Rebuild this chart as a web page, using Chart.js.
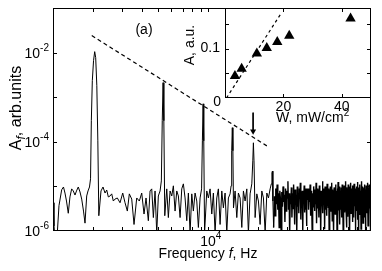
<!DOCTYPE html>
<html><head><meta charset="utf-8">
<script src="https://cdn.jsdelivr.net/npm/chart.js@4.4.1/dist/chart.umd.min.js"></script>
<style>
html,body{margin:0;padding:0;background:#fff;}
#wrap{position:relative;width:382px;height:271px;}
canvas{position:absolute;left:0;top:0;}
</style></head><body>
<div id="wrap"><canvas id="main" width="382" height="271"></canvas><canvas id="inset" width="382" height="271"></canvas></div>
<script>
// ---- main spectrum: harmonic region (Hz, arb. units)
const lowFreq = [1150,1166,1182,1216,1250,1298,1331,1359,1388,1423,1457,1492,1526,1563,1596,1636,1676,1716,1760,1797,1840,1874,1913,
 1941,1963,1990,2024,2057,2086,2119,2149,2179,
 2246,2310,2376,2433,2488,2548,2608,2667,2731,2820,2929,3041,3141,3243,3334,3448,3560,3697,3833,3964,4093,4209,4346,4452,4557,4661,4773,4887,4997,5119,
 5212,5278,5338,5397,5466,
 5620,5746,5885,6026,6162,6310,6461,6607,6767,6928,7085,7255,7429,7597,7780,7965,8145,8340,8541,8734,8945,9134,
 9237,9327,9417,9524,
 9820,10042,10283,10529,10768,11026,11290,11545,11822,12106,12380,12677,12981,13275,13593,13786,
 13900,14018,14135,14253,
 14575,14925,15262,15630,16004,16367,16759,17161,17549,17970,18400,
 18660,18815,18976,19270,
 19735,20180,20660,21160,21640,22160,22690,23210,23760,24155,
 24360,24530,24700,24945];
const lowAmp = [4.3e-6,1.3e-6,7e-7,7e-7,3.7e-6,8.4e-6,9.7e-6,7.1e-6,4.7e-6,2.5e-6,5.8e-6,8.8e-6,7.9e-6,6.4e-6,7.9e-6,9.7e-6,7.5e-6,5.2e-6,2.8e-6,1.5e-6,6.1e-6,7.9e-6,9.7e-6,
 1.48e-5,2.97e-4,2.35e-3,6.6e-3,1.05e-2,7.7e-3,1.81e-3,1.05e-4,2.2e-6,
 7.9e-6,9.7e-6,7.1e-6,8.3e-6,5.8e-6,6.1e-6,6.8e-6,4.7e-6,5.2e-6,5.5e-6,4.3e-6,7.1e-6,4.3e-6,2.8e-6,6.8e-6,5.2e-6,1.4e-6,5.5e-6,4.7e-6,7.1e-6,2.4e-6,5.5e-6,1.7e-6,7.9e-6,8.8e-6,2.0e-6,7.9e-6,9e-7,6.1e-6,7.9e-6,
 1.33e-5,2.97e-4,2.12e-3,2.97e-4,2.2e-6,
 8.8e-6,2.0e-6,7.9e-6,6.1e-6,1.03e-5,2.8e-6,7.9e-6,6.1e-6,2.0e-6,8.8e-6,1.14e-5,5.5e-6,1.7e-6,7.1e-6,9e-7,6.8e-6,2.8e-6,7.1e-6,4.7e-6,1.2e-6,5.5e-6,8.8e-6,
 1.05e-4,7.1e-4,1.05e-4,9e-7,
 7.9e-6,5.5e-6,8.8e-6,2.4e-6,7.1e-6,9e-7,5.5e-6,8.8e-6,1.4e-6,7.9e-6,3.3e-6,7.1e-6,9e-7,5.5e-6,6.8e-6,1.03e-5,
 6.3e-5,2.07e-4,6.3e-5,3.3e-6,
 7.9e-6,2.0e-6,7.1e-6,5.5e-6,1.2e-6,7.9e-6,4.7e-6,8.8e-6,9e-7,6.8e-6,1.14e-5,
 3.74e-5,9.5e-5,3.74e-5,2.0e-6,
 6.8e-6,4.7e-6,1.4e-6,7.9e-6,5.5e-6,9e-7,7.1e-6,5.5e-6,8.8e-6,1.14e-5,
 2.0e-5,2.2e-5,4.7e-6,1.2e-6];
// ---- dense noise, 25-40 kHz
const midFreq = [25200,25450,25700,25950,26200,26450,26700,26950,27200,27450,27700,27950,28200,28450,28700,28950,29200,29450,29700,29950,
 30200,30450,30700,30950,31200,31450,31700,31950,32200,32450,32700,32950,33200,33450,33700,33950,34200,34450,34700,34950,
 35200,35450,35700,35950,36200,36450,36700,36950,37200,37450,37700,37950,38200,38450,38700,38950,39200,39450,39700,39950];
const midAmp = [6e-6,2.2e-6,9e-6,4e-6,1.1e-5,3e-6,7e-6,1.2e-6,8e-6,5e-6,
 9e-7,7.5e-6,3.5e-6,1e-5,4.5e-6,6.5e-6,1.6e-6,9e-6,2.8e-6,8e-6,
 5.5e-6,1.3e-5,3e-6,7e-6,8e-7,6e-6,4e-6,9.5e-6,2e-6,7e-6,
 3.2e-6,1.1e-5,5e-6,1.4e-6,8.5e-6,4e-6,6.5e-6,9e-7,1e-5,3.5e-6,
 7e-6,2.5e-6,9e-6,5.5e-6,1.2e-5,1.8e-6,6e-6,3.8e-6,8e-6,1e-6,
 7.5e-6,4.5e-6,1.05e-5,2.6e-6,6.8e-6,3e-6,9e-6,1.3e-6,8e-6,5e-6];
// ---- dense noise, 40-97 kHz
const highFreq = [40300,40600,40900,41200,41500,41800,42100,42400,42700,43000,43300,43600,43900,44200,44500,44800,45100,45400,45700,46000,
 46300,46600,46900,47200,47500,47800,48100,48400,48700,49000,49300,49600,49900,50200,50500,50800,51100,51400,51700,52000,
 52300,52600,52900,53200,53500,53800,54100,54400,54700,55000,55300,55600,55900,56200,56500,56800,57100,57400,57700,58000,
 58300,58600,58900,59200,59500,59800,60100,60400,60700,61000,61300,61600,61900,62200,62500,62800,63100,63400,63700,64000,
 64300,64600,64900,65200,65500,65800,66100,66400,66700,67000,67300,67600,67900,68200,68500,68800,69100,69400,69700,70000,
 70300,70600,70900,71200,71500,71800,72100,72400,72700,73000,73300,73600,73900,74200,74500,74800,75100,75400,75700,76000,
 76300,76600,76900,77200,77500,77800,78100,78400,78700,79000,79300,79600,79900,80200,80500,80800,81100,81400,81700,82000,
 82300,82600,82900,83200,83500,83800,84100,84400,84700,85000,85300,85600,85900,86200,86500,86800,87100,87400,87700,88000,
 88300,88600,88900,89200,89500,89800,90100,90400,90700,91000,91300,91600,91900,92200,92500,92800,93100,93400,93700,94000,
 94300,94600,94900,95200,95500,95800,96100,96400,96700,97000];
const highAmp = [9e-6,3e-6,7e-6,4.5e-6,1.1e-5,2.2e-6,8e-6,5e-6,9e-7,7e-6,
 3.5e-6,1e-5,6e-6,2.8e-6,8.5e-6,4e-6,1.2e-5,1.5e-6,7.5e-6,3.2e-6,
 9e-6,5.5e-6,2e-6,1.05e-5,4e-6,7e-6,8e-7,8e-6,3.6e-6,6.5e-6,
 1.3e-5,2.5e-6,9e-6,4.8e-6,7e-6,1.1e-6,1e-5,3e-6,6e-6,8.5e-6,
 2.2e-6,1.15e-5,5e-6,7.5e-6,3.4e-6,9e-6,9e-7,8e-6,4.2e-6,1e-5,
 2.7e-6,7e-6,5.5e-6,1.2e-5,1.7e-6,8.5e-6,3.8e-6,6.5e-6,1e-6,9.5e-6,
 4.5e-6,7.5e-6,2.4e-6,1.1e-5,6e-6,3.2e-6,8e-6,8e-7,9e-6,5e-6,
 1.25e-5,2.9e-6,7e-6,4e-6,1e-5,1.4e-6,8e-6,5.5e-6,3e-6,9.5e-6,
 6e-6,2e-6,1.1e-5,4.5e-6,7.5e-6,9e-7,8.5e-6,3.5e-6,1.05e-5,5e-6,
 2.6e-6,9e-6,6.5e-6,1.3e-5,3e-6,7e-6,1.2e-6,9.5e-6,4.2e-6,8e-6,
 2.1e-6,1.1e-5,5.5e-6,7.5e-6,3.3e-6,1e-5,8e-7,8.5e-6,4.8e-6,6.5e-6,
 1.2e-5,2.5e-6,9e-6,4e-6,7e-6,1.6e-6,1.05e-5,3e-6,6e-6,8.5e-6,
 2e-6,1.15e-5,5e-6,7.5e-6,3.6e-6,9e-6,1e-6,8e-6,4.4e-6,1e-5,
 2.8e-6,7e-6,5.5e-6,1.25e-5,1.8e-6,8.5e-6,3.8e-6,6.5e-6,9e-7,9.5e-6,
 4.6e-6,7.5e-6,2.3e-6,1.1e-5,6e-6,3.1e-6,8e-6,1.1e-6,9e-6,5e-6,
 1.3e-5,2.7e-6,7e-6,4e-6,1e-5,1.5e-6,8e-6,5.5e-6,3e-6,9.5e-6,
 6e-6,2e-6,1.1e-5,4.5e-6,7.5e-6,8e-7,8.5e-6,3.4e-6,1.05e-5,5e-6,
 2.5e-6,9e-6,6.5e-6,1.2e-5,3e-6,7e-6,1.3e-6,9.5e-6,4.2e-6,8e-6,
 2.2e-6,1.1e-5,5.5e-6,7.5e-6,3.2e-6,1e-5,9e-7,8.5e-6,4.6e-6,7e-6];
// ---- dashed guide line and arrow in main plot
const guideFreq = [1974, 22690];
const guideAmp = [0.0241, 8.1e-5];
const arrowFreq = [18740, 18740];
const arrowAmp = [4.5e-4, 1.72e-4];
// ---- main axis ticks
const xTickVals = [2000,3000,4000,5000,6000,7000,8000,9000,10000,20000,30000,40000,50000,60000,70000,80000,90000];
const xLabelVals = [10000];
const xLabelExp = ['4'];
const yTickVals = [1e-5,1e-4,1e-3,1e-2];
const yLabelVals = [1e-2,1e-4,1e-6];
const yLabelExp = ['-2','-4','-6'];
// ---- inset: A vs W
const insetW = [3.4, 5.7, 10.9, 14.3, 17.9, 22.0, 43.0];
const insetA = [0.0446, 0.059, 0.090, 0.101, 0.113, 0.126, 0.161];
const fitW = [0.5, 19.2];
const fitA = [0, 0.171];
const insetXTicks = [20, 40];
const insetXLabels = ['20', '40'];
const insetYTicks = [0.05, 0.1, 0.15];

const FONT = '"Liberation Sans", Arial, Helvetica, sans-serif';

function pairs(fs, as){ const out=[]; for(let i=0;i<Math.min(fs.length,as.length);i++) out.push({x:fs[i], y:as[i]}); return out; }
const harmonicPart = pairs(lowFreq,lowAmp);
const densePart = [harmonicPart[harmonicPart.length-1]].concat(pairs(midFreq,midAmp), pairs(highFreq,highAmp));

function drawPow(ctx, base, exp, x, y, align, fs, es, rise){
  ctx.font = fs+'px '+FONT; const wb = ctx.measureText(base).width;
  ctx.font = es+'px '+FONT; const we = ctx.measureText(exp).width;
  let x0 = align==='right' ? x-wb-we : x-wb/2;
  ctx.textAlign='left'; ctx.textBaseline='alphabetic';
  ctx.font = fs+'px '+FONT; ctx.fillText(base, x0, y);
  ctx.font = es+'px '+FONT; ctx.fillText(exp, x0+wb, y-rise);
}

const mainDeco = {
  id:'mainDeco',
  afterDraw(chart){
    const ctx = chart.ctx, ca = chart.chartArea, xs = chart.scales.x, ys = chart.scales.y;
    ctx.save();
    ctx.strokeStyle='#000'; ctx.lineWidth=1;
    ctx.strokeRect(ca.left+0.5, ca.top+0.5, ca.right-ca.left-1, ca.bottom-ca.top-1);
    ctx.beginPath();
    xTickVals.forEach(v=>{
      const p = Math.round(xs.getPixelForValue(v))+0.5;
      ctx.moveTo(p, ca.bottom); ctx.lineTo(p, ca.bottom-4);
      ctx.moveTo(p, ca.top); ctx.lineTo(p, ca.top+4);
    });
    yTickVals.forEach(v=>{
      const p = Math.round(ys.getPixelForValue(v))+0.5;
      ctx.moveTo(ca.left, p); ctx.lineTo(ca.left+4, p);
      ctx.moveTo(ca.right, p); ctx.lineTo(ca.right-4, p);
    });
    ctx.stroke();
    ctx.fillStyle='#000';
    yLabelVals.forEach((v,i)=>{
      const p = ys.getPixelForValue(v);
      drawPow(ctx,'10',yLabelExp[i],49,p+5,'right',14,10,7);
    });
    xLabelVals.forEach((v,i)=>{
      const p = xs.getPixelForValue(v);
      drawPow(ctx,'10',xLabelExp[i],p,246,'center',14,10,7);
    });
    // x title
    const t1='Frequency ', t2='f', t3=', Hz';
    ctx.font='14px '+FONT; const w1=ctx.measureText(t1).width, w3=ctx.measureText(t3).width;
    ctx.font='italic 14px '+FONT; const w2=ctx.measureText(t2).width;
    let x0 = 208-(w1+w2+w3)/2;
    ctx.textAlign='left'; ctx.textBaseline='alphabetic';
    ctx.font='14px '+FONT; ctx.fillText(t1,x0,258);
    ctx.font='italic 14px '+FONT; ctx.fillText(t2,x0+w1,258);
    ctx.font='14px '+FONT; ctx.fillText(t3,x0+w1+w2,258);
    // y title
    ctx.save();
    ctx.translate(21,108); ctx.rotate(-Math.PI/2);
    const a1='A', a2='f', a3=', arb.units';
    ctx.font='16px '+FONT; const b1=ctx.measureText(a1).width, b3=ctx.measureText(a3).width;
    ctx.font='italic 12px '+FONT; const b2=ctx.measureText(a2).width;
    let s = -(b1+b2+b3)/2;
    ctx.font='16px '+FONT; ctx.fillText(a1,s,0);
    ctx.font='italic 12px '+FONT; ctx.fillText(a2,s+b1,4);
    ctx.font='16px '+FONT; ctx.fillText(a3,s+b1+b2,0);
    ctx.restore();
    // panel label
    ctx.font='14px '+FONT; ctx.textAlign='center'; ctx.fillText('(a)',144,34);
    ctx.restore();
  }
};

new Chart(document.getElementById('main'), {
  type:'line',
  data:{datasets:[
    {data:harmonicPart, borderColor:'#000', borderWidth:1, pointRadius:0, tension:0, fill:false},
    {data:densePart, borderColor:'#000', borderWidth:1.4, pointRadius:0, tension:0, fill:false},
    {data:pairs(guideFreq,guideAmp), borderColor:'#000', borderWidth:1.2, borderDash:[4,3], pointRadius:0, fill:false},
    {data:pairs(arrowFreq,arrowAmp), borderColor:'#000', borderWidth:1, pointRadius:[0,3.5], pointStyle:'triangle', rotation:180,
     pointBackgroundColor:'#000', pointBorderColor:'#000', pointBorderWidth:0, fill:false}
  ]},
  options:{
    responsive:false, animation:false, devicePixelRatio:1,
    layout:{padding:{left:53,right:11,top:8,bottom:40}},
    plugins:{legend:{display:false}, tooltip:{enabled:false}},
    scales:{
      x:{type:'logarithmic', min:1150, max:97000, display:false},
      y:{type:'logarithmic', min:1e-6, max:1e-1, display:false}
    }
  },
  plugins:[mainDeco]
});

const insetDeco = {
  id:'insetDeco',
  beforeDatasetsDraw(chart){
    const ctx=chart.ctx, ca=chart.chartArea;
    ctx.save(); ctx.fillStyle='#fff'; ctx.fillRect(ca.left, ca.top, ca.right-ca.left, ca.bottom-ca.top); ctx.restore();
  },
  afterDraw(chart){
    const ctx=chart.ctx, ca=chart.chartArea, xs=chart.scales.x, ys=chart.scales.y;
    ctx.save();
    ctx.strokeStyle='#000'; ctx.lineWidth=1;
    ctx.strokeRect(ca.left+0.5, ca.top+0.5, ca.right-ca.left-1, ca.bottom-ca.top-1);
    ctx.beginPath();
    insetXTicks.forEach(v=>{
      const p=Math.round(xs.getPixelForValue(v))+0.5;
      ctx.moveTo(p,ca.bottom); ctx.lineTo(p,ca.bottom-4);
      ctx.moveTo(p,ca.top); ctx.lineTo(p,ca.top+4);
    });
    insetYTicks.forEach(v=>{
      const p=Math.round(ys.getPixelForValue(v))+0.5;
      ctx.moveTo(ca.left,p); ctx.lineTo(ca.left+4,p);
      ctx.moveTo(ca.right,p); ctx.lineTo(ca.right-4,p);
    });
    ctx.stroke();
    ctx.fillStyle='#000'; ctx.font='14px '+FONT;
    ctx.textAlign='right'; ctx.textBaseline='middle';
    ctx.fillText('0.1', 220, ys.getPixelForValue(0.1));
    ctx.fillText('0', 221, ys.getPixelForValue(0)+4);
    ctx.textAlign='center'; ctx.textBaseline='alphabetic';
    insetXTicks.forEach((v,i)=>{ ctx.fillText(insetXLabels[i], xs.getPixelForValue(v), 111); });
    // x title
    ctx.textAlign='left';
    const m='W, mW/cm'; ctx.font='14px '+FONT; const wm=ctx.measureText(m).width;
    ctx.fillText(m, 276, 122);
    ctx.font='10px '+FONT; ctx.fillText('2', 276+wm, 116);
    // y title
    ctx.save(); ctx.translate(194,45); ctx.rotate(-Math.PI/2);
    ctx.font='14px '+FONT; ctx.textAlign='center'; ctx.textBaseline='alphabetic';
    ctx.fillText('A, a.u.',0,0);
    ctx.restore();
    ctx.restore();
  }
};

new Chart(document.getElementById('inset'), {
  type:'scatter',
  data:{datasets:[
    {type:'line', data:pairs(fitW,fitA), borderColor:'#000', borderWidth:1.2, borderDash:[3,3], pointRadius:0, fill:false},
    {data:pairs(insetW,insetA), pointStyle:'triangle', pointRadius:6, backgroundColor:'#000', borderColor:'#000', borderWidth:0}
  ]},
  options:{
    responsive:false, animation:false, devicePixelRatio:1,
    layout:{padding:{left:225,right:11,top:8,bottom:173}},
    plugins:{legend:{display:false}, tooltip:{enabled:false}},
    scales:{
      x:{type:'linear', min:0, max:50, display:false},
      y:{type:'linear', min:0, max:0.182, display:false}
    }
  },
  plugins:[insetDeco]
});
</script>
</body></html>
